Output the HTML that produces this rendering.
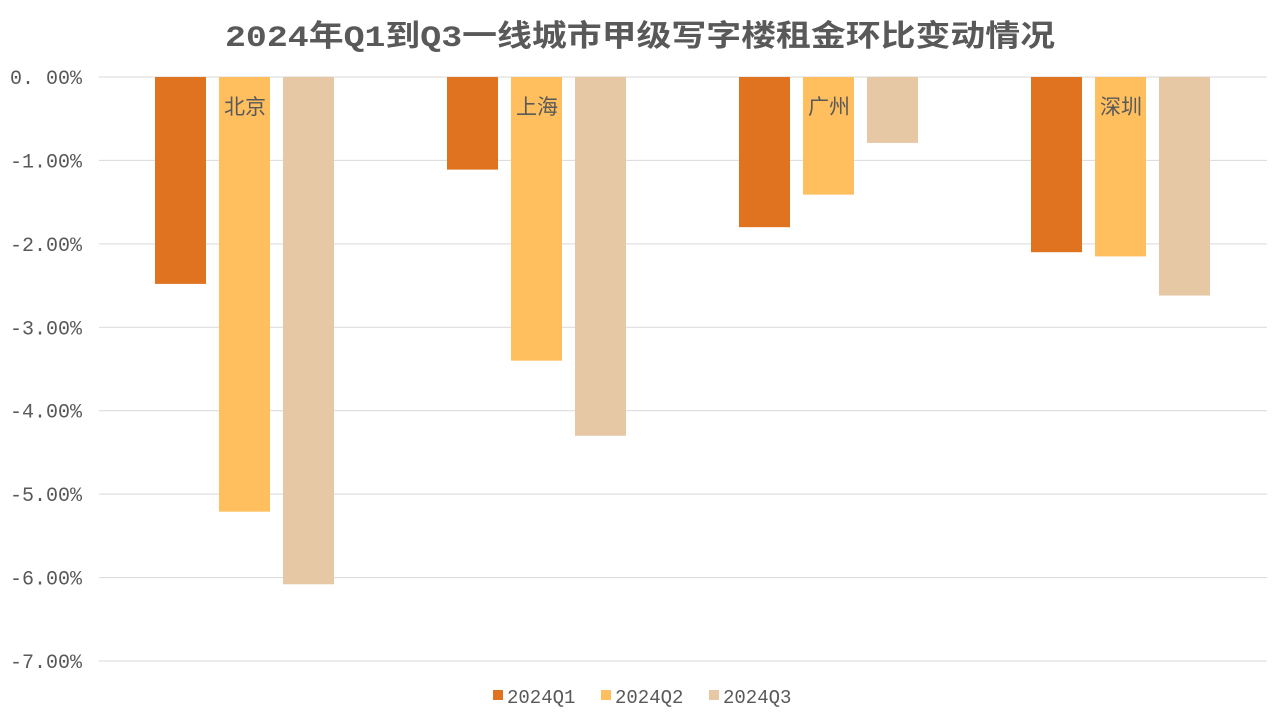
<!DOCTYPE html>
<html><head><meta charset="utf-8"><style>
body{margin:0;background:#fff;}
svg{display:block;font-family:"Liberation Sans","Noto Sans CJK SC",sans-serif;}
</style></head><body>
<svg id="chart" width="1280" height="720">
<text x="225" y="46" textLength="830" lengthAdjust="spacingAndGlyphs" font-size="30" font-weight="bold" fill="#595959" font-family="Liberation Mono, Noto Sans CJK SC, sans-serif">2024年Q1到Q3一线城市甲级写字楼租金环比变动情况</text>
<g id="grid"></g><g id="bars"></g><g id="labels"></g><g id="legend"></g>
</svg>
<script>
const categories=["北京","上海","广州","深圳"];
const q1=[-2.48,-1.11,-1.80,-2.10];
const q2=[-5.21,-3.40,-1.41,-2.15];
const q3=[-6.08,-4.30,-0.79,-2.62];
const ticks=[0,-1,-2,-3,-4,-5,-6,-7];
const seriesNames=["2024Q1","2024Q2","2024Q3"];
const colors=["#E07320","#FFBF5F","#E6C8A4"];
const NS="http://www.w3.org/2000/svg";
const x0=99,catW=292,y0=77,pxPer=83.43;
const y=v=>y0-v*pxPer;
function mk(tag,attrs,parent){const e=document.createElementNS(NS,tag);for(const k in attrs)e.setAttribute(k,attrs[k]);document.getElementById(parent).appendChild(e);return e;}
ticks.forEach(t=>{
 const l=mk("line",{x1:x0,x2:x0+4*catW,y1:y(t),y2:y(t),stroke:"#d9d9d9","stroke-width":1},"grid");
 
 
 const tx=mk("text",{x:82,y:y(t)+7,"text-anchor":"end","font-size":20,fill:"#595959","font-family":"Liberation Mono, monospace"},"grid");
 tx.textContent=(t===0?"0. 00%":t.toFixed(2)+"%");
 
 
});
const series=[q1,q2,q3];
categories.forEach((c,i)=>{
 const cx=x0+catW*i+catW/2;
 series.forEach((s,j)=>{
  const bx=cx-90+j*64;
  const r=mk("rect",{x:bx,y:y0,width:51,height:y(s[i])-y0,fill:colors[j]},"bars");
  
  
 });
 const t=mk("text",{x:cx,y:114,"text-anchor":"middle","font-size":21,fill:"#595959"},"labels");
 t.textContent=c;
 
 
});
seriesNames.forEach((n,j)=>{
 const lx=493+j*108;
 const r=mk("rect",{x:lx,y:690,width:10,height:10,fill:colors[j]},"legend");
 
 
 const t=mk("text",{x:lx+14,y:703,"font-size":19,fill:"#595959","font-family":"Liberation Mono, monospace"},"legend");
 t.textContent=n;
 
 
});
</script>
</body></html>
